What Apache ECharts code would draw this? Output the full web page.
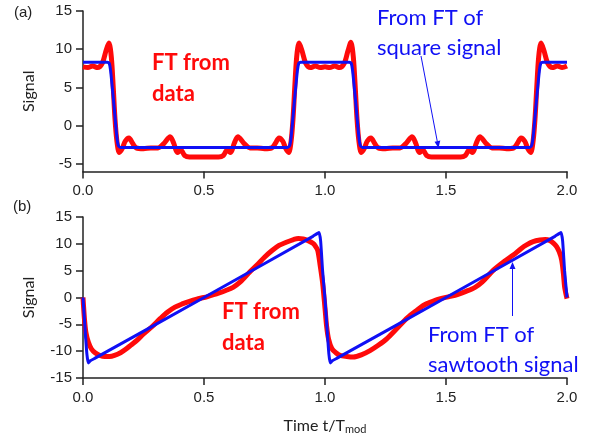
<!DOCTYPE html>
<html>
<head>
<meta charset="utf-8">
<script src="https://cdn.jsdelivr.net/npm/echarts@6/dist/echarts.min.js"></script>
<style>
  html, body { margin: 0; padding: 0; background: #fff; }
  #chart { width: 600px; height: 446px; }
</style>
</head>
<body>
<div id="chart"></div>
<script>
// panel (a): FT from data (red) vs FT of square signal (blue)
var tSqRed = [0, 0.02, 0.04, 0.06, 0.08, 0.095, 0.107, 0.117, 0.125, 0.132, 0.14, 0.15, 0.162, 0.175, 0.19, 0.205, 0.22, 0.25, 0.28, 0.31, 0.335, 0.36, 0.375, 0.39, 0.405, 0.42, 0.44, 0.5, 0.56, 0.58, 0.595, 0.61, 0.625, 0.64, 0.665, 0.69, 0.72, 0.75, 0.78, 0.795, 0.81, 0.825, 0.838, 0.85, 0.86, 0.868, 0.875, 0.883, 0.893, 0.905, 0.92, 0.94, 0.96, 0.98,
              1.0, 1.02, 1.04, 1.06, 1.08, 1.095, 1.107, 1.117, 1.125, 1.132, 1.14, 1.15, 1.162, 1.175, 1.19, 1.205, 1.22, 1.25, 1.28, 1.31, 1.335, 1.36, 1.375, 1.39, 1.405, 1.42, 1.44, 1.5, 1.56, 1.58, 1.595, 1.61, 1.625, 1.64, 1.665, 1.69, 1.72, 1.75, 1.78, 1.795, 1.81, 1.825, 1.838, 1.85, 1.86, 1.868, 1.875, 1.883, 1.893, 1.905, 1.92, 1.94, 1.96, 1.98, 2.0];
var vSqRed = [7.7, 7.6, 7.8, 7.6, 8.2, 9.8, 10.8, 9.0, 5.0, 1.0, -2.0, -3.5, -3.0, -2.0, -1.6, -2.3, -2.9, -3.0, -2.9, -2.9, -2.3, -1.45, -2.3, -3.5, -3.2, -3.9, -4.1, -4.1, -4.1, -3.9, -3.2, -3.5, -2.3, -1.45, -2.3, -2.9, -2.9, -3.0, -2.9, -2.3, -1.6, -2.0, -3.0, -3.5, -2.0, 1.0, 5.0, 9.0, 10.8, 9.8, 8.2, 7.6, 7.8, 7.6,
              7.7, 7.6, 7.8, 7.6, 8.2, 9.8, 10.9, 9.0, 5.0, 1.0, -2.0, -3.5, -3.0, -2.0, -1.6, -2.3, -2.9, -3.0, -2.9, -2.9, -2.3, -1.45, -2.3, -3.5, -3.2, -3.9, -4.1, -4.1, -4.1, -3.9, -3.2, -3.5, -2.3, -1.45, -2.3, -2.9, -2.9, -3.0, -2.9, -2.3, -1.6, -2.0, -3.0, -3.5, -2.0, 1.0, 5.0, 9.0, 10.8, 9.8, 8.2, 7.6, 7.8, 7.6, 7.8];
var tSqBlue = [0, 0.1, 0.108, 0.114, 0.127, 0.14, 0.146, 0.155, 0.5, 0.845, 0.854, 0.86, 0.873, 0.886, 0.892, 0.9,
               1.0, 1.1, 1.108, 1.114, 1.127, 1.14, 1.146, 1.155, 1.5, 1.845, 1.854, 1.86, 1.873, 1.886, 1.892, 1.9, 2.0];
var vSqBlue = [8.3, 8.3, 8.2, 7.2, 3.0, -1.5, -2.6, -2.85, -2.85, -2.85, -2.6, -1.5, 3.0, 7.2, 8.2, 8.3,
               8.3, 8.3, 8.2, 7.2, 3.0, -1.5, -2.6, -2.85, -2.85, -2.85, -2.6, -1.5, 3.0, 7.2, 8.2, 8.3, 8.3];

// panel (b): FT from data (red) vs FT of sawtooth signal (blue)
var tSawRed = [0, 0.006, 0.012, 0.022, 0.035, 0.05, 0.07, 0.09, 0.11, 0.13, 0.155, 0.175, 0.2, 0.225, 0.25, 0.286, 0.32, 0.35, 0.38, 0.41, 0.44, 0.47, 0.5, 0.53, 0.56, 0.59, 0.62, 0.65, 0.69, 0.72, 0.75, 0.78, 0.81, 0.84, 0.87, 0.89, 0.91, 0.93, 0.95, 0.96, 0.97, 0.98, 0.99, 0.996,
               1.0, 1.007, 1.015, 1.028, 1.045, 1.062, 1.09, 1.117, 1.15, 1.186, 1.22, 1.255, 1.303, 1.34, 1.379, 1.41, 1.434, 1.47, 1.517, 1.55, 1.58, 1.62, 1.65, 1.696, 1.74, 1.778, 1.81, 1.833, 1.86, 1.888, 1.91, 1.93, 1.945, 1.957, 1.968, 1.978, 1.985, 1.99, 1.995, 2.0];
var vSawRed = [0, -4, -6.5, -8.3, -9.6, -10.3, -10.8, -11.0, -11.0, -10.8, -10.3, -9.7, -8.8, -7.9, -6.8, -5.4, -3.9, -2.7, -1.8, -1.2, -0.7, -0.3, 0, 0.4, 0.8, 1.3, 1.9, 2.9, 4.8, 6.1, 7.5, 8.7, 9.7, 10.3, 10.8, 11.0, 10.9, 10.6, 10.1, 9.6, 8.8, 6.0, 2.8, 0,
               -2.0, -5.5, -7.8, -9.5, -10.3, -10.8, -11.0, -11.1, -10.7, -9.9, -8.9, -7.7, -5.5, -3.8, -2.4, -1.4, -0.9, -0.3, 0.2, 0.6, 1.1, 1.9, 2.9, 5.1, 6.7, 7.9, 9.1, 9.8, 10.4, 10.7, 10.8, 10.6, 10.1, 9.5, 8.5, 7.0, 4.5, 2.0, 0.8, -0.2];
var tSawBlue = [0, 0.008, 0.016, 0.022, 0.03, 0.05, 0.5, 0.95, 0.975, 0.982, 0.99,
                1.0, 1.008, 1.016, 1.022, 1.03, 1.05, 1.5, 1.95, 1.975, 1.982, 1.99, 2.0];
var vSawBlue = [0, -5.5, -10.5, -12.2, -11.8, -11.3, 0, 11.4, 12.1, 10.5, 5,
                -0.3, -5.5, -10.5, -12.2, -11.8, -11.3, 0, 11.4, 12.1, 10.5, 5, 0];

var xTicks = [0, 0.5, 1.0, 1.5, 2.0];
var yTicksA = [-5, 0, 5, 10, 15];

function pairs(ts, vs) {
    var out = [];
    for (var i = 0; i < ts.length; i++) out.push([ts[i], vs[i]]);
    return out;
}

var RED = '#ff0a0a';
var BLUE = '#1010f5';
var labelFont = { fontFamily: 'Liberation Sans', fontSize: 15, color: '#222' };

function xAxisOf(idx, withName) {
    var ax = {
        type: 'value', gridIndex: idx, min: 0, max: 2, interval: 0.5,
        axisLine: { onZero: false, lineStyle: { color: '#222', width: 1.5 } },
        axisTick: { length: 7, lineStyle: { color: '#222', width: 1.5 } },
        axisLabel: Object.assign({ margin: 12, formatter: function (v) { return v.toFixed(1); } }, labelFont),
        splitLine: { show: false }
    };
    if (withName) {
        ax.name = '{a|Time t/T}{b|mod}';
        ax.nameLocation = 'middle';
        ax.nameGap = 38;
        ax.nameTextStyle = {
            rich: {
                a: { fontFamily: 'Lato', fontSize: 16, color: '#222' },
                b: { fontFamily: 'Lato', fontSize: 11, color: '#222', verticalAlign: 'bottom', padding: [8, 0, 0, 0] }
            }
        };
    }
    return ax;
}

function yAxisOf(idx, opts) {
    return Object.assign({
        type: 'value', gridIndex: idx,
        name: 'Signal', nameLocation: 'middle', nameGap: 46,
        nameTextStyle: { fontFamily: 'Lato', fontSize: 16, color: '#222' },
        axisLine: { onZero: false, lineStyle: { color: '#222', width: 1.5 } },
        splitLine: { show: false }
    }, opts);
}

var myChart = echarts.init(document.getElementById('chart'), null, { renderer: 'canvas' });

var option = {
    animation: false,
    backgroundColor: '#fff',
    grid: [
        { left: 83, right: 33, top: 11, height: 160.6 },
        { left: 83, right: 33, top: 217, height: 161 }
    ],
    xAxis: [xAxisOf(0, false), xAxisOf(1, true)],
    yAxis: [
        yAxisOf(0, {
            min: -6, max: 15,
            axisTick: { length: 7, customValues: yTicksA, lineStyle: { color: '#222', width: 1.5 } },
            axisLabel: Object.assign({ margin: 11, customValues: yTicksA }, labelFont)
        }),
        yAxisOf(1, {
            min: -15, max: 15, interval: 5,
            axisTick: { length: 7, lineStyle: { color: '#222', width: 1.5 } },
            axisLabel: Object.assign({ margin: 11 }, labelFont)
        })
    ],
    series: [
        { type: 'line', xAxisIndex: 0, yAxisIndex: 0, data: pairs(tSqRed, vSqRed), showSymbol: false, smooth: 0.3,
          lineStyle: { color: RED, width: 5 }, z: 2 },
        { type: 'line', xAxisIndex: 0, yAxisIndex: 0, data: pairs(tSqBlue, vSqBlue), showSymbol: false, smooth: 0.2,
          lineStyle: { color: BLUE, width: 3 }, z: 3 },
        { type: 'line', xAxisIndex: 1, yAxisIndex: 1, data: pairs(tSawRed, vSawRed), showSymbol: false, smooth: 0.3,
          lineStyle: { color: RED, width: 5 }, z: 2 },
        { type: 'line', xAxisIndex: 1, yAxisIndex: 1, data: pairs(tSawBlue, vSawBlue), showSymbol: false, smooth: 0.15,
          lineStyle: { color: BLUE, width: 3 }, z: 3 }
    ],
    graphic: [
        { type: 'text', left: 14, top: 5, style: { text: '(a)', font: '15px "Liberation Sans"', fill: '#222' } },
        { type: 'text', left: 13, top: 199, style: { text: '(b)', font: '15px "Liberation Sans"', fill: '#222' } },
        { type: 'text', x: 152, y: 47, style: { text: 'FT from\ndata', font: 'bold 22px Lato', lineHeight: 31, fill: RED } },
        { type: 'text', x: 222, y: 296, style: { text: 'FT from\ndata', font: 'bold 22px Lato', lineHeight: 31, fill: RED } },
        { type: 'text', x: 377, y: 3, style: { text: 'From FT of\nsquare signal', font: '22px Lato', lineHeight: 30, fill: BLUE } },
        { type: 'text', x: 428, y: 320, style: { text: 'From FT of\nsawtooth signal', font: '22px Lato', lineHeight: 30, fill: BLUE } },
        { type: 'line', shape: { x1: 421, y1: 56, x2: 437.3, y2: 141.5 }, style: { stroke: BLUE, lineWidth: 1 } },
        { type: 'polygon', shape: { points: [[438.5, 148], [440.3, 140.6], [434.5, 141.7]] }, style: { fill: BLUE } },
        { type: 'line', shape: { x1: 512.5, y1: 316, x2: 512.5, y2: 268 }, style: { stroke: BLUE, lineWidth: 1 } },
        { type: 'polygon', shape: { points: [[512.5, 262], [509.5, 269], [515.5, 269]] }, style: { fill: BLUE } }
    ]
};

myChart.setOption(option);
</script>
</body>
</html>
